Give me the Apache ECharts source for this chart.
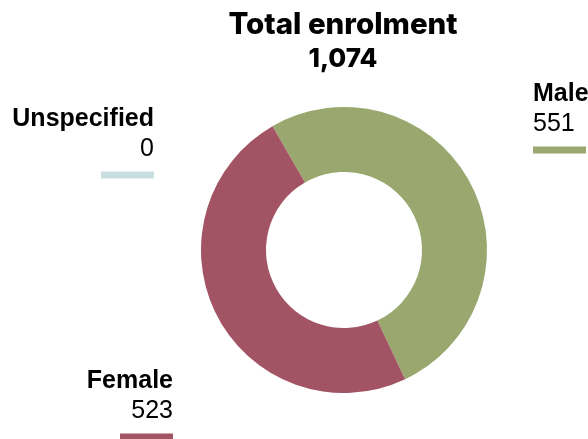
<!DOCTYPE html>
<html>
<head>
<meta charset="utf-8">
<script src="https://cdn.jsdelivr.net/npm/echarts@6/dist/echarts.min.js"></script>
<style>
  html, body { margin: 0; padding: 0; background: #fff; }
  #chart { width: 588px; height: 439px; }
</style>
</head>
<body>
<div id="chart"></div>
<script>
// data
const categories = ['Male', 'Female', 'Unspecified'];
const values = [551, 523, 0];
const colors = ['#9aa870', '#a35464', '#c8dee0'];

// where each label block sits (x anchor, top y, alignment)
const labelSpots = [
  { x: 533, y: 79, align: 'left' },
  { x: 173, y: 366, align: 'right' },
  { x: 154, y: 104, align: 'right' }
];

const total = values.reduce((a, b) => a + b, 0);

const chart = echarts.init(document.getElementById('chart'));

const rich = {
  name: { fontFamily: 'Liberation Sans, Arial', fontSize: 25, fontWeight: 'bold', color: '#000', lineHeight: 30 },
  val: { fontFamily: 'Liberation Sans, Arial', fontSize: 25, color: '#000', lineHeight: 30 }
};
colors.forEach((c, i) => {
  rich['bar' + i] = { width: 53, height: 7, backgroundColor: c, lineHeight: 22 };
});

chart.setOption({
  animation: false,
  title: {
    left: 343,
    textAlign: 'center',
    top: 10,
    padding: 0,
    text: 'Total enrolment',
    subtext: total.toLocaleString('en-US'),
    itemGap: 6,
    textStyle: { fontFamily: 'Inter', fontSize: 29.5, fontWeight: 800, color: '#000' },
    subtextStyle: { fontFamily: 'Inter', fontSize: 26, fontWeight: 800, color: '#000' }
  },
  series: [{
    type: 'pie',
    center: [344, 250],
    radius: [78, 143],
    startAngle: 120,
    clockwise: true,
    avoidLabelOverlap: false,
    emphasis: { disabled: true },
    data: categories.map((name, i) => ({
      name: name,
      value: values[i],
      itemStyle: { color: colors[i] },
      label: { align: labelSpots[i].align }
    })),
    label: {
      show: true,
      position: 'outside',
      formatter: p => '{name|' + p.name + '}\n{val|' + p.value + '}\n{bar' + p.dataIndex + '|}',
      rich: rich
    },
    labelLine: { show: false },
    labelLayout: p => ({
      x: labelSpots[p.dataIndex].x,
      y: labelSpots[p.dataIndex].y,
      align: labelSpots[p.dataIndex].align,
      verticalAlign: 'top'
    })
  }]
});
</script>
</body>
</html>
